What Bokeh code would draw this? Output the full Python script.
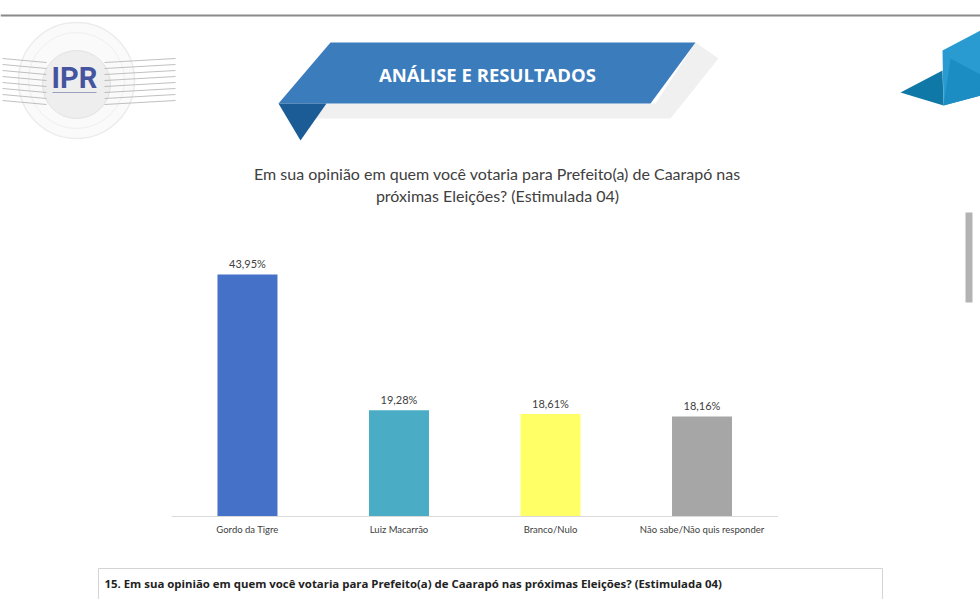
from bokeh.plotting import figure
from bokeh.models import Range1d, ColumnDataSource
from bokeh.core.properties import value
from bokeh.embed import file_html
from bokeh.resources import INLINE

# ---- data ----
categories = ["Gordo da Tigre", "Luiz Macarrão", "Branco/Nulo", "Não sabe/Não quis responder"]
percentages = [43.95, 19.28, 18.61, 18.16]
value_labels = ["43,95%", "19,28%", "18,61%", "18,16%"]
bar_colors = ["#4571c8", "#4bacc6", "#ffff66", "#a6a6a6"]
title_lines = ["Em sua opinião em quem você votaria para Prefeito(a) de Caarapó nas",
               "próximas Eleições? (Estimulada 04)"]
banner_text = "ANÁLISE E RESULTADOS"
table_text = "15. Em sua opinião em quem você votaria para Prefeito(a) de Caarapó nas próximas Eleições? (Estimulada 04)"

W, H = 980, 599
p = figure(width=W, height=H, output_backend="svg", toolbar_location=None,
           x_axis_location=None, y_axis_location=None, min_border=0,
           x_range=Range1d(0, W), y_range=Range1d(H, 0))
p.grid.visible = False
p.outline_line_color = None
p.background_fill_color = "white"
p.border_fill_color = "white"

# bar-chart ranges
p.extra_x_ranges = {"bx": Range1d(-1.630, 4.838)}
p.extra_y_ranges = {"by": Range1d(-15.07, 93.7)}

# ---- page decorations (pixel coordinates) ----
p.segment(x0=[0], y0=[15], x1=[W], y1=[15], line_color="#8a8a8a", line_width=2)

# logo
p.circle(x=[76], y=[80], radius=58, fill_color="#fafafa", line_color="#ececec", line_width=1.5)
p.circle(x=[76], y=[80], radius=48, fill_color=None, line_color="#efefef", line_width=1)
p.circle(x=[76], y=[84], radius=34, fill_color="#eeeeee", line_color="#e2e2e2", line_width=1)
for yy in [58, 64, 70, 76, 82, 88, 94, 100]:
    p.segment(x0=[2], y0=[yy], x1=[46], y1=[yy + 4], line_color="#b0b0b0", line_width=0.8)
    p.segment(x0=[104], y0=[yy + 4], x1=[175], y1=[yy], line_color="#b0b0b0", line_width=0.8)
p.text(x=[74], y=[77], text=["IPR"], text_font=value("Roboto"), text_font_style="bold",
       text_font_size="29px", text_color="#45549e", text_align="center", text_baseline="middle")
p.segment(x0=[52], y0=[92], x1=[96], y1=[92], line_color="#9aa0c0", line_width=1.2)

# banner
p.patch(x=[695, 718, 670, 300, 300, 655], y=[42, 58, 118, 118, 103, 103],
        fill_color="#f0f0f0", line_color=None)
p.patch(x=[330, 695, 650, 278], y=[42, 42, 103, 103], fill_color="#3b7cbd", line_color=None)
p.patch(x=[278, 326, 300], y=[103, 103, 140], fill_color="#1c5c96", line_color=None)
p.text(x=[487], y=[74], text=[banner_text], text_font=value("Open Sans"), text_font_style="bold",
       text_font_size="18.5px", text_color="white", text_align="center", text_baseline="middle")

# right corner decoration
p.patch(x=[942, 980, 980, 943], y=[50, 30, 95, 105], fill_color="#2a9bd0", line_color=None)
p.patch(x=[950, 980, 980, 943], y=[58, 74, 95, 105], fill_color="#1b8dc2", line_color=None)
p.patch(x=[900, 942, 943], y=[92, 70, 105], fill_color="#0f78a6", line_color=None)

# scrollbar
p.quad(left=[965], right=[972], top=[212], bottom=[302], fill_color="#b3b3b3", line_color=None)

# chart title
p.text(x=[497, 497], y=[173, 195], text=title_lines, text_font=value("Lato"),
       text_font_size="16px", text_color="#404040", text_align="center", text_baseline="middle")

# ---- bars ----
idx = list(range(len(categories)))
src = ColumnDataSource(dict(x=idx, top=percentages, color=bar_colors, lab=value_labels, cat=categories))
p.vbar(x="x", top="top", bottom=0, width=0.396, fill_color="color", line_color=None,
       source=src, x_range_name="bx", y_range_name="by")
p.segment(x0=[-0.5], y0=[0], x1=[len(categories) - 0.5], y1=[0], line_color="#d9d9d9", line_width=1,
          x_range_name="bx", y_range_name="by")
p.text(x="x", y="top", text="lab", source=src, y_offset=-11, text_font=value("Lato"),
       text_font_size="11px", text_color="#404040", text_align="center", text_baseline="middle",
       x_range_name="bx", y_range_name="by")
p.text(x="x", y=0, text="cat", source=src, y_offset=13, text_font=value("Lato"),
       text_font_size="9.5px", text_color="#404040", text_align="center", text_baseline="middle",
       x_range_name="bx", y_range_name="by")

# ---- bottom table box ----
p.segment(x0=[98, 98, 882], y0=[568, 568, 568], x1=[882, 98, 882], y1=[568, 599, 599],
          line_color="#d4d4d4", line_width=1)
p.text(x=[104], y=[583], text=[table_text], text_font=value("Open Sans"), text_font_style="bold",
       text_font_size="11.4px", text_color="#222222", text_align="left", text_baseline="middle")

open("out.html", "w").write(file_html(p, INLINE))
